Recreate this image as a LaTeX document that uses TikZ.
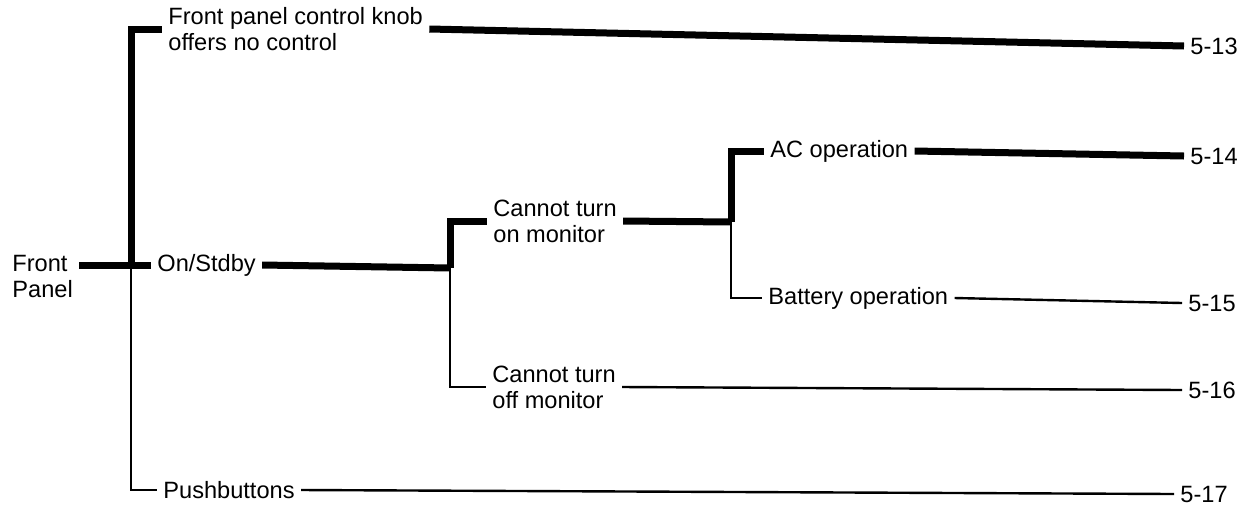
\documentclass[tikz,border=0pt]{standalone}
\usepackage{fontspec}
\setmainfont{Liberation Sans}
\usetikzlibrary{positioning}

\begin{document}
\begin{tikzpicture}[x=0.5pt, y=-0.5pt,
    lbl/.style={inner xsep=3pt, inner ysep=0pt, align=left,
      font=\fontsize{11.8}{13}\selectfont},
    heavy/.style={line width=3.5pt},
    light/.style={line width=1.2pt}]
  \useasboundingbox (0,0) rectangle (1246,515);

  % ── root and first level ──
  \node[lbl, anchor=north west] (front) at (6,255) {Front\\Panel};
  \coordinate (j1) at (131,265);

  \node[lbl, anchor=west] (knob) at (162,29) {Front panel control knob\\offers no control};
  \node[lbl, anchor=west] (onstdby) at (151,265) {On/Stdby};
  \node[lbl, anchor=west] (push) at (157,490) {Pushbuttons};

  % ── On/Stdby branch ──
  \coordinate (j2) at (450,268);
  \node[lbl, anchor=west] (turnon) at (487,221) {Cannot turn\\on monitor};
  \node[lbl, anchor=west] (turnoff) at (486,387) {Cannot turn\\off monitor};

  \coordinate (j3) at (731,222);
  \node[lbl, anchor=west] (acop) at (764,151) {AC operation};
  \node[lbl, anchor=west] (batop) at (762,298) {Battery operation};

  % ── page references ──
  \node[lbl, anchor=west] (p13) at (1184,46) {5-13};
  \node[lbl, anchor=west] (p14) at (1184,156) {5-14};
  \node[lbl, anchor=west] (p15) at (1182,303) {5-15};
  \node[lbl, anchor=west] (p16) at (1182,390) {5-16};
  \node[lbl, anchor=west] (p17) at (1174,494) {5-17};

  % ── connectors ──
  \draw[heavy] (front.east |- j1) -- (j1);
  \draw[heavy] (j1) |- (knob.west);
  \draw[heavy] (j1) -- (onstdby.west);
  \draw[light] (j1) |- (push.west);

  \draw[heavy] (onstdby.east) -- (j2);
  \draw[heavy] (j2) |- (turnon.west);
  \draw[light] (j2) |- (turnoff.west);

  \draw[heavy] (turnon.east) -- (j3);
  \draw[heavy] (j3) |- (acop.west);
  \draw[light] (j3) |- (batop.west);

  \draw[heavy] (knob.east) -- (p13.west);
  \draw[heavy] (acop.east) -- (p14.west);
  \draw[light] (batop.east) -- (p15.west);
  \draw[light] (turnoff.east) -- (p16.west);
  \draw[light] (push.east) -- (p17.west);
\end{tikzpicture}
\end{document}
